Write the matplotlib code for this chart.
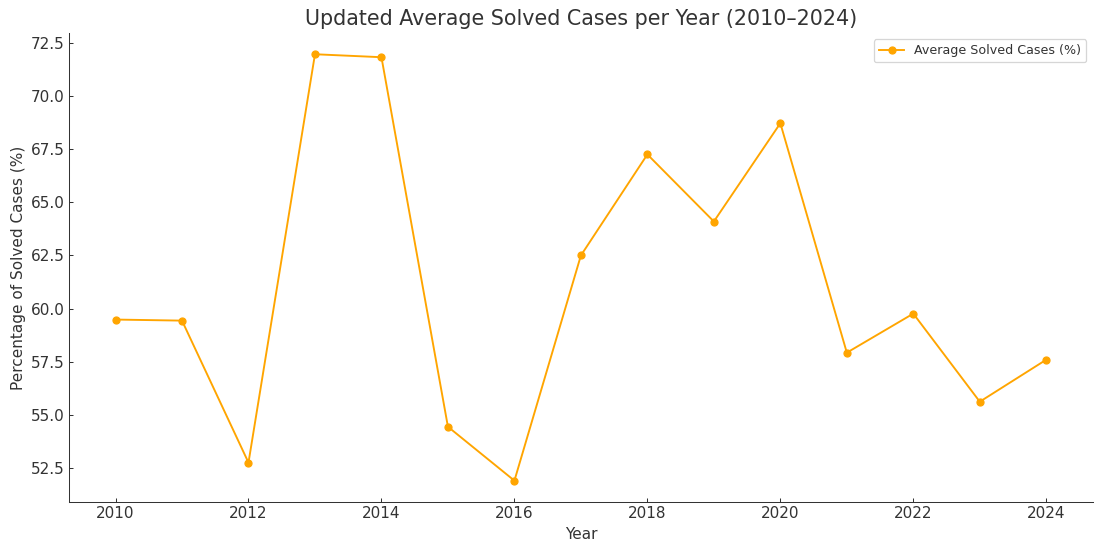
import matplotlib
matplotlib.use("Agg")
import matplotlib.pyplot as plt

years = [2010, 2011, 2012, 2013, 2014, 2015, 2016, 2017, 2018, 2019, 2020, 2021, 2022, 2023, 2024]
solved_pct = [59.48, 59.43, 52.74, 71.98, 71.84, 54.43, 51.89, 62.50, 67.26,
              64.10, 68.73, 57.92, 59.76, 55.61, 57.59]

text_col = "#333333"
plt.rcParams['text.color'] = text_col
plt.rcParams['axes.labelcolor'] = text_col
plt.rcParams['xtick.color'] = text_col
plt.rcParams['ytick.color'] = text_col

fig, ax = plt.subplots(figsize=(12, 5.918), dpi=91.25)
fig.subplots_adjust(left=0.063, right=0.998, top=0.939, bottom=0.0704)

ax.plot(years, solved_pct, marker='o', color='orange', markersize=5.5,
        linewidth=1.5, label='Average Solved Cases (%)')

ax.set_title("Updated Average Solved Cases per Year (2010\u20132024)", fontsize=16.3)
ax.set_xlabel("Year", fontsize=12)
ax.set_ylabel("Percentage of Solved Cases (%)", fontsize=12)
ax.tick_params(direction='in', labelsize=12)
ax.spines['top'].set_visible(False)
ax.spines['right'].set_visible(False)
ax.spines['left'].set_color(text_col)
ax.spines['bottom'].set_color(text_col)
ax.legend(loc='upper right', fontsize=10)

fig.savefig("out.png")
